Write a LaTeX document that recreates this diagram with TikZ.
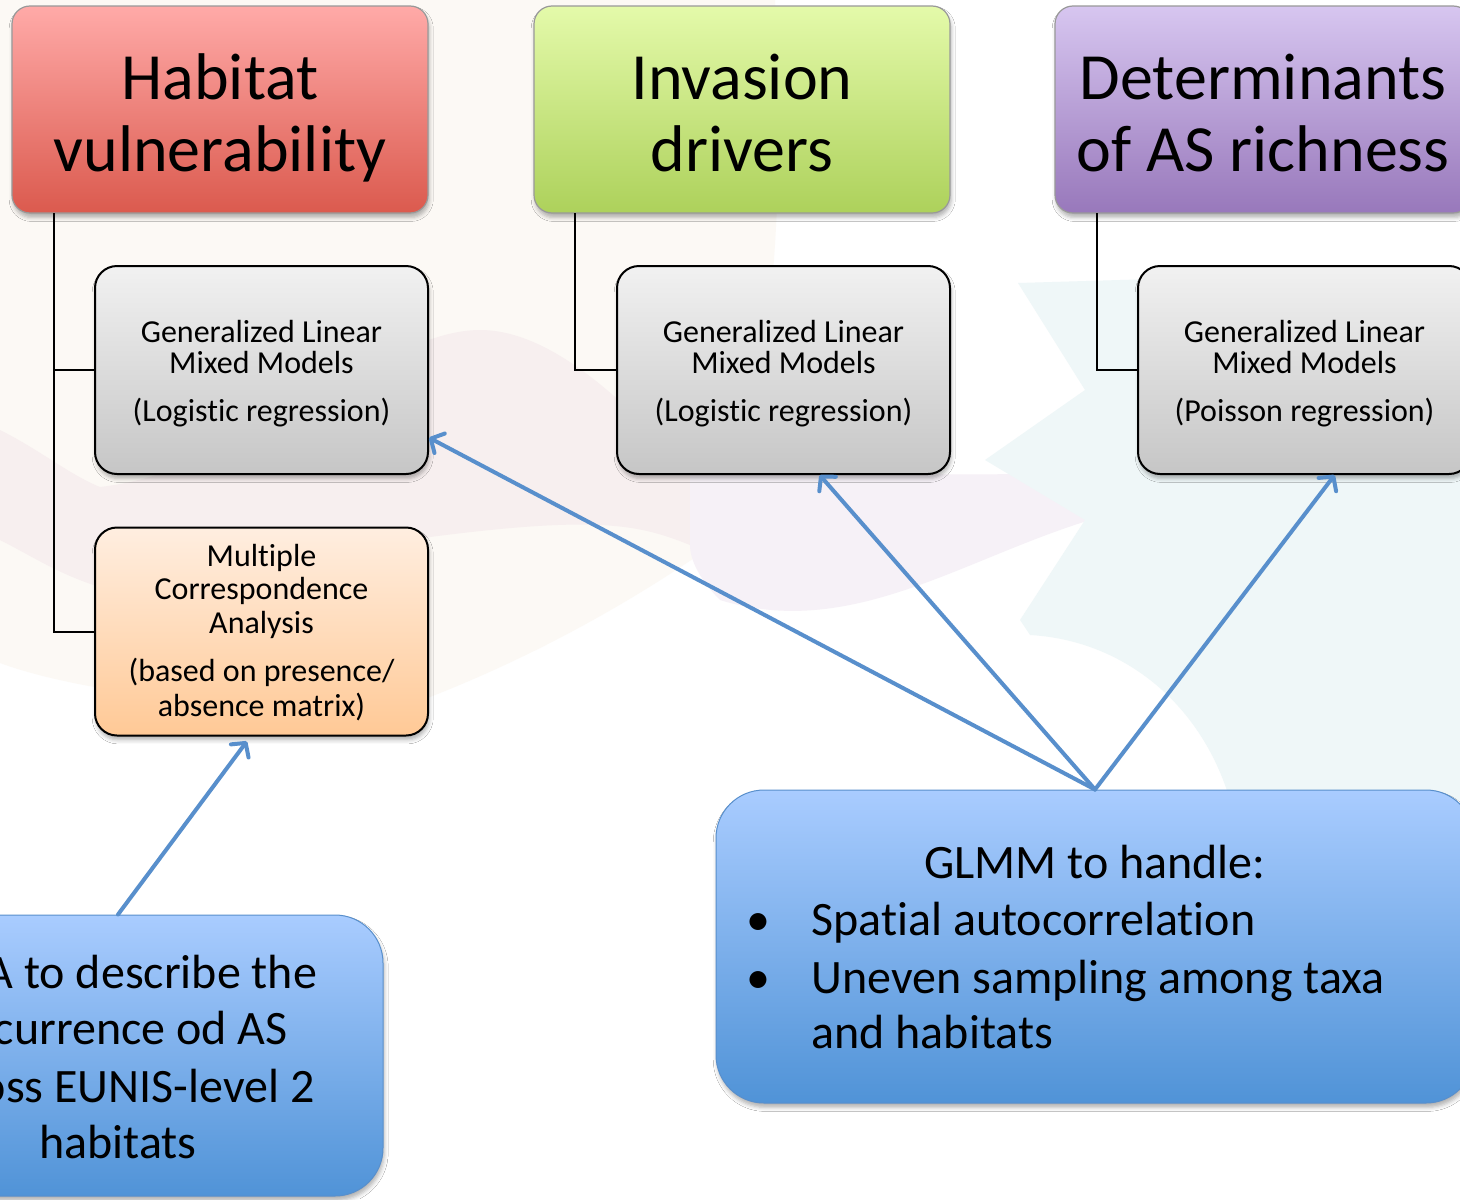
\documentclass[tikz,border=0pt]{standalone}
\usepackage{fontspec}
\setmainfont{Carlito}[Ligatures={NoCommon}]
\usetikzlibrary{shadows.blur,arrows.meta}
\definecolor{redtop}{RGB}{255,170,168}
\definecolor{redbot}{RGB}{219,90,78}
\definecolor{grntop}{RGB}{228,250,170}
\definecolor{grnbot}{RGB}{173,209,91}
\definecolor{purtop}{RGB}{215,198,240}
\definecolor{purbot}{RGB}{152,120,187}
\definecolor{grytop}{RGB}{241,241,241}
\definecolor{grybot}{RGB}{198,198,198}
\definecolor{orgtop}{RGB}{255,238,224}
\definecolor{orgbot}{RGB}{255,201,150}
\definecolor{blutop}{RGB}{169,204,255}
\definecolor{blubot}{RGB}{80,147,215}
\definecolor{arrowblue}{RGB}{88,143,204}
\definecolor{bgcream}{RGB}{252,249,245}
\definecolor{bgpink}{RGB}{247,239,239}
\definecolor{bglav}{RGB}{246,241,247}
\definecolor{bgcyan}{RGB}{239,247,248}
\begin{document}
\begin{tikzpicture}[x=0.5pt,y=-0.5pt,
  shad/.style={blur shadow={shadow xshift=0.6pt,shadow yshift=-2.2pt,shadow blur radius=2pt,shadow opacity=30}},
  hdrbox/.style={shad,rounded corners=9pt,draw=black!40,line width=0.6pt,minimum width=208pt,minimum height=103.5pt,inner sep=0pt},
  subbox/.style={shad,rounded corners=11pt,draw=black,line width=1pt,minimum width=166.5pt,minimum height=104pt,inner sep=0pt},
  blubox/.style={shad,rounded corners=24pt,draw=arrowblue,line width=0.5pt,top color=blutop,bottom color=blubot,inner sep=0pt},
  hdrtxt/.style={font=\fontsize{33}{36}\selectfont,inner sep=0pt,anchor=base},
  subtxt/.style={font=\fontsize{16}{16}\selectfont,inner sep=0pt,anchor=base},
  bigtxt/.style={font=\fontsize{24}{28}\selectfont,inner sep=0pt,anchor=base},
  conn/.style={draw=black,line width=1pt},
  blarrow/.style={draw=arrowblue,line width=2pt,line cap=round,-{Straight Barb[length=5pt,width=11pt,round]}}
]
\useasboundingbox (0,0) rectangle (1460,1199);
\clip (0,0) rectangle (1460,1199);
\fill[white] (0,0) rectangle (1460,1199);
% faint background watermark
\fill[bgcream] (0,0) -- (775,0) .. controls (785,200) and (775,380) .. (720,540)
  .. controls (650,590) and (550,650) .. (430,697) .. controls (330,720) and (100,700) .. (0,663) -- cycle;
\fill[bgpink] (0,430) .. controls (40,450) and (70,475) .. (100,487)
  .. controls (250,470) and (380,330) .. (480,330) .. controls (560,330) and (640,420) .. (690,470)
  -- (690,545) .. controls (640,525) and (600,515) .. (430,537)
  .. controls (300,560) and (200,600) .. (100,587) .. controls (60,575) and (30,555) .. (0,540) -- cycle;
\fill[bglav] (690,470) .. controls (820,470) and (980,480) .. (1090,470) -- (1090,520)
  .. controls (960,560) and (850,640) .. (720,600) .. controls (700,580) and (690,560) .. (690,545) -- cycle;
\fill[bgcyan] (1018,283) -- (1460,270) -- (1460,800) -- (1230,800)
  .. controls (1200,700) and (1120,640) .. (1030,635) -- (1020,620) -- (1085,520)
  -- (985,460) -- (1085,390) -- cycle;

% header boxes
\node[hdrbox,top color=redtop,bottom color=redbot] (hv) at (220,109.5) {};
\node[hdrbox,top color=grntop,bottom color=grnbot] (id) at (742,109.5) {};
\node[hdrbox,top color=purtop,bottom color=purbot] (dr) at (1263,109.5) {};
\node[hdrtxt] (hv1) at (220,99) {Habitat};
\node[hdrtxt] (hv2) at (220,171) {vulnerability};
\node[hdrtxt] (id1) at (742,99) {Invasion};
\node[hdrtxt] (id2) at (742,171) {drivers};
\node[hdrtxt] (dr1) at (1263,99) {Determinants};
\node[hdrtxt] (dr2) at (1263,171) {of AS richness};

% tree connectors
\coordinate (hvs) at (54,213);
\coordinate (ids) at (575,213);
\coordinate (drs) at (1097,213);

% sub boxes
\node[subbox,top color=grytop,bottom color=grybot] (g1) at (261.5,370) {};
\node[subbox,top color=grytop,bottom color=grybot] (g2) at (783.5,370) {};
\node[subbox,top color=grytop,bottom color=grybot] (g3) at (1304.5,370) {};
\node[subbox,top color=orgtop,bottom color=orgbot] (mca) at (261.5,631.5) {};

\draw[conn] (hvs) |- (g1.west);
\draw[conn] (hvs) |- (mca.west);
\draw[conn] (ids) |- (g2.west);
\draw[conn] (drs) |- (g3.west);

\node[subtxt] (g1a) at (261.5,342) {Generalized Linear};
\node[subtxt] (g1b) at (261.5,373) {Mixed Models};
\node[subtxt] (g1c) at (261.5,421) {(Logistic regression)};
\node[subtxt] (g2a) at (783.5,342) {Generalized Linear};
\node[subtxt] (g2b) at (783.5,373) {Mixed Models};
\node[subtxt] (g2c) at (783.5,421) {(Logistic regression)};
\node[subtxt] (g3a) at (1304.5,342) {Generalized Linear};
\node[subtxt] (g3b) at (1304.5,373) {Mixed Models};
\node[subtxt] (g3c) at (1304.5,421) {(Poisson regression)};
\node[subtxt] (m1) at (261.5,566) {Multiple};
\node[subtxt] (m2) at (261.5,599) {Correspondence};
\node[subtxt] (m3) at (261.5,633) {Analysis};
\node[subtxt] (m4) at (261.5,681) {(based on presence/};
\node[subtxt] (m5) at (261.5,716) {absence matrix)};

% blue boxes
\node[blubox,minimum width=265pt,minimum height=140.5pt] (bl) at (118,1055.5) {};
\node[blubox,minimum width=379pt,minimum height=156.5pt] (br) at (1095,946.5) {};

\node[bigtxt] (bl1) at (118,988) {MCA to describe the};
\node[bigtxt] (bl2) at (118,1044) {occurrence od AS};
\node[bigtxt] (bl3) at (118,1102) {across EUNIS-level 2};
\node[bigtxt] (bl4) at (118,1158) {habitats};

\node[bigtxt] (br0) at (1095,878) {GLMM to handle:};
\node[bigtxt] (bb1) at (758,935) {\textbullet};
\node[bigtxt] (bb2) at (758,993) {\textbullet};
\node[bigtxt,anchor=base west] (br1) at (811,935) {Spatial autocorrelation};
\node[bigtxt,anchor=base west] (br2) at (811,993) {Uneven sampling among taxa};
\node[bigtxt,anchor=base west] (br3) at (811,1048) {and habitats};

% arrows
\draw[blarrow] (br.north) -- (g1.-22);
\draw[blarrow] (br.north) -- (g2.-71.6);
\draw[blarrow] (br.north) -- (g3.-74.7);
\draw[blarrow,shorten >=3pt] (bl.north) -- (mca.-96.3);
\end{tikzpicture}
\end{document}
